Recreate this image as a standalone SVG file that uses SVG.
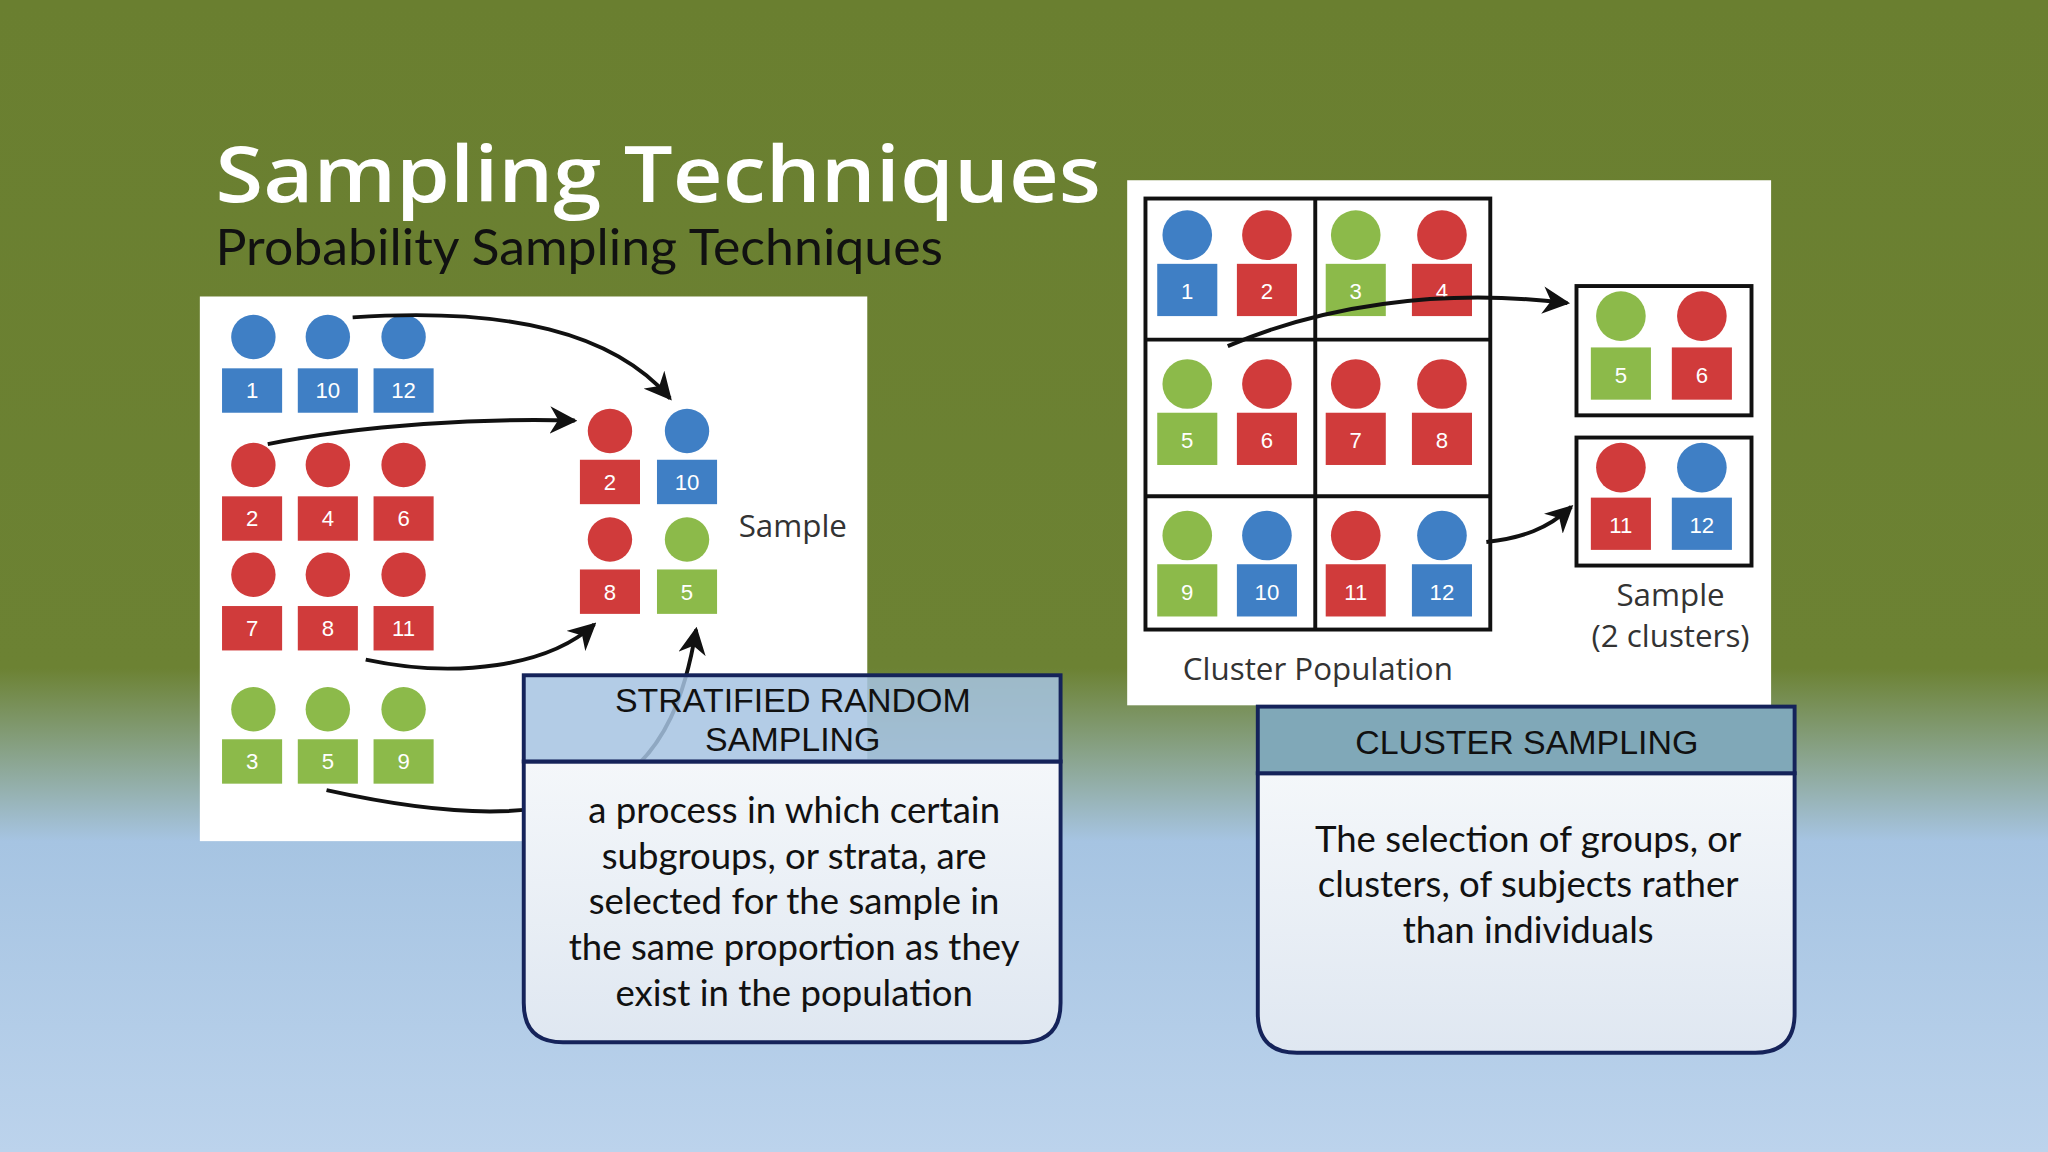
<svg xmlns="http://www.w3.org/2000/svg" width="2048" height="1152" viewBox="0 0 2048 1152">
<defs>
<linearGradient id="bg" x1="0" y1="0" x2="0" y2="1">
<stop offset="0" stop-color="#6a7f30"/><stop offset="0.58" stop-color="#6c8233"/><stop offset="0.73" stop-color="#a6c4e2"/><stop offset="1" stop-color="#bcd3ec"/>
</linearGradient>
<linearGradient id="body" x1="0" y1="0" x2="0" y2="1"><stop offset="0" stop-color="#f4f7fa"/><stop offset="1" stop-color="#dfe7f1"/></linearGradient>
<marker id="ah" viewBox="0 0 10 10" refX="9" refY="5" markerWidth="7" markerHeight="7" orient="auto"><path d="M0,0 L10,5 L0,10 L3,5 z" fill="#111"/></marker>
<style>
.b{fill:#3f7fc5}.r{fill:#d03b3b}.g{fill:#8cba4a}
.n{font-family:"Liberation Sans",sans-serif;font-size:17px;fill:#fff;text-anchor:middle}
.lab{font-family:"Open Sans","DejaVu Sans",sans-serif;font-size:24px;fill:#333;text-anchor:middle}
.hd{font-family:"Liberation Sans",sans-serif;font-size:26px;fill:#111;text-anchor:middle}
.bd{font-family:Lato,"Open Sans",sans-serif;font-size:28px;fill:#111;text-anchor:middle}
.ar{fill:none;stroke:#111;stroke-width:3;marker-end:url(#ah)}
.box{stroke:#15235a;stroke-width:3}
</style>
</defs>
<rect width="2048" height="1152" fill="url(#bg)"/>
<g transform="scale(1.30612)">
<text x="165" y="155" font-family="'Open Sans',Lato,sans-serif" font-weight="600" font-size="60" fill="#fff" textLength="678" lengthAdjust="spacingAndGlyphs">Sampling Techniques</text>
<text x="165" y="203" font-family="Lato,'Open Sans',sans-serif" font-size="38" fill="#111" textLength="557" lengthAdjust="spacingAndGlyphs">Probability Sampling Techniques</text>
<g id="strat-image">
<rect x="153" y="227" width="511" height="417" fill="#fff"/>
<g id="people-left">
<circle cx="194" cy="258" r="17" class="b"/><rect x="170" y="282" width="46" height="34" class="b"/><text x="193" y="305" class="n">1</text>
<circle cx="251" cy="258" r="17" class="b"/><rect x="228" y="282" width="46" height="34" class="b"/><text x="251" y="305" class="n">10</text>
<circle cx="309" cy="258" r="17" class="b"/><rect x="286" y="282" width="46" height="34" class="b"/><text x="309" y="305" class="n">12</text>
<circle cx="194" cy="356" r="17" class="r"/><rect x="170" y="380" width="46" height="34" class="r"/><text x="193" y="403" class="n">2</text>
<circle cx="251" cy="356" r="17" class="r"/><rect x="228" y="380" width="46" height="34" class="r"/><text x="251" y="403" class="n">4</text>
<circle cx="309" cy="356" r="17" class="r"/><rect x="286" y="380" width="46" height="34" class="r"/><text x="309" y="403" class="n">6</text>
<circle cx="194" cy="440" r="17" class="r"/><rect x="170" y="464" width="46" height="34" class="r"/><text x="193" y="487" class="n">7</text>
<circle cx="251" cy="440" r="17" class="r"/><rect x="228" y="464" width="46" height="34" class="r"/><text x="251" y="487" class="n">8</text>
<circle cx="309" cy="440" r="17" class="r"/><rect x="286" y="464" width="46" height="34" class="r"/><text x="309" y="487" class="n">11</text>
<circle cx="194" cy="543" r="17" class="g"/><rect x="170" y="566" width="46" height="34" class="g"/><text x="193" y="589" class="n">3</text>
<circle cx="251" cy="543" r="17" class="g"/><rect x="228" y="566" width="46" height="34" class="g"/><text x="251" y="589" class="n">5</text>
<circle cx="309" cy="543" r="17" class="g"/><rect x="286" y="566" width="46" height="34" class="g"/><text x="309" y="589" class="n">9</text>
<circle cx="467" cy="330" r="17" class="r"/><rect x="444" y="352" width="46" height="34" class="r"/><text x="467" y="375" class="n">2</text>
<circle cx="526" cy="330" r="17" class="b"/><rect x="503" y="352" width="46" height="34" class="b"/><text x="526" y="375" class="n">10</text>
<circle cx="467" cy="413" r="17" class="r"/><rect x="444" y="436" width="46" height="34" class="r"/><text x="467" y="459" class="n">8</text>
<circle cx="526" cy="413" r="17" class="g"/><rect x="503" y="436" width="46" height="34" class="g"/><text x="526" y="459" class="n">5</text>
</g>
<text x="607" y="411" class="lab" font-size="26">Sample</text>
</g>
<g id="cluster-image">
<rect x="863" y="138" width="493" height="402" fill="#fff"/>
<rect x="877" y="152" width="264" height="330" fill="none" stroke="#111" stroke-width="3"/>
<path d="M1007,152V482M877,260H1141M877,380H1141" stroke="#111" stroke-width="3"/>
<rect x="1207" y="219" width="134" height="99" fill="none" stroke="#111" stroke-width="3"/>
<rect x="1207" y="335" width="134" height="98" fill="none" stroke="#111" stroke-width="3"/>
<circle cx="909" cy="180" r="19" class="b"/><rect x="886" y="202" width="46" height="40" class="b"/><text x="909" y="229" class="n">1</text>
<circle cx="970" cy="180" r="19" class="r"/><rect x="947" y="202" width="46" height="40" class="r"/><text x="970" y="229" class="n">2</text>
<circle cx="1038" cy="180" r="19" class="g"/><rect x="1015" y="202" width="46" height="40" class="g"/><text x="1038" y="229" class="n">3</text>
<circle cx="1104" cy="180" r="19" class="r"/><rect x="1081" y="202" width="46" height="40" class="r"/><text x="1104" y="229" class="n">4</text>
<circle cx="909" cy="294" r="19" class="g"/><rect x="886" y="316" width="46" height="40" class="g"/><text x="909" y="343" class="n">5</text>
<circle cx="970" cy="294" r="19" class="r"/><rect x="947" y="316" width="46" height="40" class="r"/><text x="970" y="343" class="n">6</text>
<circle cx="1038" cy="294" r="19" class="r"/><rect x="1015" y="316" width="46" height="40" class="r"/><text x="1038" y="343" class="n">7</text>
<circle cx="1104" cy="294" r="19" class="r"/><rect x="1081" y="316" width="46" height="40" class="r"/><text x="1104" y="343" class="n">8</text>
<circle cx="909" cy="410" r="19" class="g"/><rect x="886" y="432" width="46" height="40" class="g"/><text x="909" y="459" class="n">9</text>
<circle cx="970" cy="410" r="19" class="b"/><rect x="947" y="432" width="46" height="40" class="b"/><text x="970" y="459" class="n">10</text>
<circle cx="1038" cy="410" r="19" class="r"/><rect x="1015" y="432" width="46" height="40" class="r"/><text x="1038" y="459" class="n">11</text>
<circle cx="1104" cy="410" r="19" class="b"/><rect x="1081" y="432" width="46" height="40" class="b"/><text x="1104" y="459" class="n">12</text>
<circle cx="1241" cy="242" r="19" class="g"/><rect x="1218" y="266" width="46" height="40" class="g"/><text x="1241" y="293" class="n">5</text>
<circle cx="1303" cy="242" r="19" class="r"/><rect x="1280" y="266" width="46" height="40" class="r"/><text x="1303" y="293" class="n">6</text>
<circle cx="1241" cy="358" r="19" class="r"/><rect x="1218" y="381" width="46" height="40" class="r"/><text x="1241" y="408" class="n">11</text>
<circle cx="1303" cy="358" r="19" class="b"/><rect x="1280" y="381" width="46" height="40" class="b"/><text x="1303" y="408" class="n">12</text>
<text x="1279" y="464" class="lab" font-size="21">Sample</text>
<text x="1279" y="495" class="lab" font-size="21">(2 clusters)</text>
<text x="1009" y="521" class="lab">Cluster Population</text>
</g>
<g id="connectors">
<path class="ar" d="M270,243 C390,235 470,255 513,305"/>
<path class="ar" d="M205,340 C280,325 370,320 440,322"/>
<path class="ar" d="M280,505 C350,520 420,510 455,478"/>
<path class="ar" d="M250,605 C340,625 420,630 470,600 C510,575 525,530 533,482"/>
<path class="ar" d="M940,265 C1010,235 1100,220 1200,232"/>
<path class="ar" d="M1138,415 C1165,412 1185,405 1203,388"/>
</g>
<g id="stratified-box">
<path class="box" d="M401,583 H812 V768 Q812,798 782,798 H431 Q401,798 401,768 Z" fill="url(#body)"/>
<rect class="box" x="401" y="517" width="411" height="66" fill="#a6c3e2" fill-opacity="0.85"/>
<text x="607" y="545" class="hd">STRATIFIED RANDOM</text>
<text x="607" y="575" class="hd">SAMPLING</text>
<text x="608" y="630" class="bd">a process in which certain</text>
<text x="608" y="665" class="bd">subgroups, or strata, are</text>
<text x="608" y="700" class="bd">selected for the sample in</text>
<text x="608" y="735" class="bd">the same proportion as they</text>
<text x="608" y="770" class="bd">exist in the population</text>
</g>
<g id="cluster-box">
<path class="box" d="M963,592 H1374 V776 Q1374,806 1344,806 H993 Q963,806 963,776 Z" fill="url(#body)"/>
<rect class="box" x="963" y="541" width="411" height="51" fill="#80a8b8"/>
<text x="1169" y="577" class="hd">CLUSTER SAMPLING</text>
<text x="1170" y="652" class="bd">The selection of groups, or</text>
<text x="1170" y="687" class="bd">clusters, of subjects rather</text>
<text x="1170" y="722" class="bd">than individuals</text>
</g>
</g>
</svg>
